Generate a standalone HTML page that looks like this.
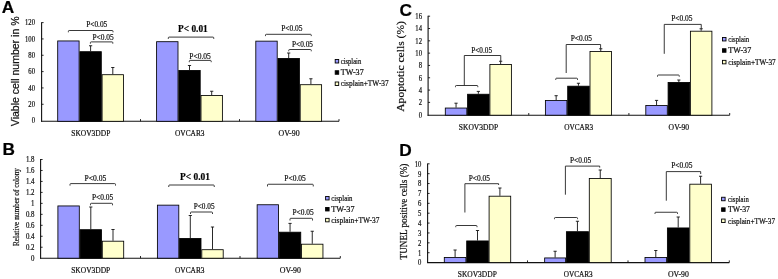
<!DOCTYPE html>
<html><head><meta charset="utf-8"><title>Figure</title>
<style>
html,body{margin:0;padding:0;background:#fff;}
body{width:778px;height:279px;overflow:hidden;font-family:"Liberation Serif",serif;}
svg{display:block;filter:blur(0.4px);}
text{font-kerning:normal;stroke:#111;stroke-width:0.22px;}
</style></head><body>
<svg width="778" height="279" viewBox="0 0 778 279">
<rect x="0" y="0" width="778" height="279" fill="#ffffff"/>
<text x="1.8" y="13.4" font-family="'Liberation Sans', sans-serif" font-size="17.3" font-weight="bold" text-anchor="start" fill="#000">A</text>
<text transform="translate(18.5,71.35) scale(1.0,1) rotate(-90)" font-family="'Liberation Sans', sans-serif" font-size="10.8" font-weight="normal" text-anchor="middle" fill="#111" textLength="109.7" lengthAdjust="spacingAndGlyphs">Viable cell number in %</text>
<line x1="41.6" y1="22.200000000000003" x2="41.6" y2="121.8" stroke="#111" stroke-width="1.1"/>
<line x1="41.1" y1="121.3" x2="339" y2="121.3" stroke="#111" stroke-width="1.1"/>
<line x1="140.5" y1="121.3" x2="140.5" y2="119.1" stroke="#111" stroke-width="0.9"/>
<line x1="239.5" y1="121.3" x2="239.5" y2="119.1" stroke="#111" stroke-width="0.9"/>
<line x1="339" y1="121.3" x2="339" y2="119.1" stroke="#111" stroke-width="0.9"/>
<text transform="translate(35.0,123.38) scale(0.83,1)" font-family="'Liberation Serif', serif" font-size="8" text-anchor="end" fill="#111">0</text>
<line x1="41.6" y1="104.27" x2="43.6" y2="104.27" stroke="#111" stroke-width="0.9"/>
<text transform="translate(35.0,107.05) scale(0.83,1)" font-family="'Liberation Serif', serif" font-size="8" text-anchor="end" fill="#111">20</text>
<line x1="41.6" y1="87.93" x2="43.6" y2="87.93" stroke="#111" stroke-width="0.9"/>
<text transform="translate(35.0,90.71) scale(0.83,1)" font-family="'Liberation Serif', serif" font-size="8" text-anchor="end" fill="#111">40</text>
<line x1="41.6" y1="71.6" x2="43.6" y2="71.6" stroke="#111" stroke-width="0.9"/>
<text transform="translate(35.0,74.38) scale(0.83,1)" font-family="'Liberation Serif', serif" font-size="8" text-anchor="end" fill="#111">60</text>
<line x1="41.6" y1="55.27" x2="43.6" y2="55.27" stroke="#111" stroke-width="0.9"/>
<text transform="translate(35.0,58.05) scale(0.83,1)" font-family="'Liberation Serif', serif" font-size="8" text-anchor="end" fill="#111">80</text>
<line x1="41.6" y1="38.93" x2="43.6" y2="38.93" stroke="#111" stroke-width="0.9"/>
<text transform="translate(35.0,41.71) scale(0.83,1)" font-family="'Liberation Serif', serif" font-size="8" text-anchor="end" fill="#111">100</text>
<line x1="41.6" y1="22.6" x2="43.6" y2="22.6" stroke="#111" stroke-width="0.9"/>
<text transform="translate(35.0,25.38) scale(0.83,1)" font-family="'Liberation Serif', serif" font-size="8" text-anchor="end" fill="#111">120</text>
<rect x="57.7" y="40.95" width="21.4" height="80.35" fill="#9999ff" stroke="#000" stroke-width="0.85"/>
<line x1="90.6" y1="45.75" x2="90.6" y2="51.25" stroke="#111" stroke-width="0.9"/>
<line x1="89.0" y1="45.75" x2="92.19999999999999" y2="45.75" stroke="#111" stroke-width="0.9"/>
<rect x="79.9" y="51.7" width="21.4" height="69.6" fill="#000000" stroke="#000" stroke-width="0.85"/>
<line x1="112.79999999999998" y1="67.5" x2="112.79999999999998" y2="74.25" stroke="#111" stroke-width="0.9"/>
<line x1="111.19999999999999" y1="67.5" x2="114.39999999999998" y2="67.5" stroke="#111" stroke-width="0.9"/>
<rect x="102.1" y="74.7" width="21.4" height="46.6" fill="#ffffcc" stroke="#000" stroke-width="0.85"/>
<rect x="156.6" y="41.7" width="21.4" height="79.6" fill="#9999ff" stroke="#000" stroke-width="0.85"/>
<line x1="189.49999999999997" y1="65.5" x2="189.49999999999997" y2="70" stroke="#111" stroke-width="0.9"/>
<line x1="187.89999999999998" y1="65.5" x2="191.09999999999997" y2="65.5" stroke="#111" stroke-width="0.9"/>
<rect x="178.8" y="70.45" width="21.4" height="50.85" fill="#000000" stroke="#000" stroke-width="0.85"/>
<line x1="211.7" y1="91.25" x2="211.7" y2="95" stroke="#111" stroke-width="0.9"/>
<line x1="210.1" y1="91.25" x2="213.29999999999998" y2="91.25" stroke="#111" stroke-width="0.9"/>
<rect x="201.0" y="95.45" width="21.4" height="25.85" fill="#ffffcc" stroke="#000" stroke-width="0.85"/>
<rect x="255.8" y="41.15" width="21.4" height="80.15" fill="#9999ff" stroke="#000" stroke-width="0.85"/>
<line x1="288.70000000000005" y1="53" x2="288.70000000000005" y2="58" stroke="#111" stroke-width="0.9"/>
<line x1="287.1" y1="53" x2="290.30000000000007" y2="53" stroke="#111" stroke-width="0.9"/>
<rect x="278.0" y="58.45" width="21.4" height="62.85" fill="#000000" stroke="#000" stroke-width="0.85"/>
<line x1="310.90000000000003" y1="78.75" x2="310.90000000000003" y2="84.25" stroke="#111" stroke-width="0.9"/>
<line x1="309.3" y1="78.75" x2="312.50000000000006" y2="78.75" stroke="#111" stroke-width="0.9"/>
<rect x="300.2" y="84.7" width="21.4" height="36.6" fill="#ffffcc" stroke="#000" stroke-width="0.85"/>
<path d="M68.4,32.3 L68.4,31.3 Q68.4,30.5 69.2,30.5 L112.2,30.5 Q113,30.5 113,31.3 L113,32.3" fill="none" stroke="#222" stroke-width="0.9" stroke-linejoin="round"/>
<text x="86.2" y="27.1" font-family="'Liberation Serif', serif" font-size="8.5" font-weight="normal" text-anchor="start" fill="#111" textLength="21.1" lengthAdjust="spacingAndGlyphs">P&lt;0.05</text>
<path d="M90.4,43.699999999999996 L90.4,42.699999999999996 Q90.4,41.9 91.2,41.9 L112.0,41.9 Q112.8,41.9 112.8,42.699999999999996 L112.8,43.699999999999996" fill="none" stroke="#222" stroke-width="0.9" stroke-linejoin="round"/>
<text x="92.5" y="39.6" font-family="'Liberation Serif', serif" font-size="8.5" font-weight="normal" text-anchor="start" fill="#111" textLength="21.25" lengthAdjust="spacingAndGlyphs">P&lt;0.05</text>
<path d="M168.3,38.9 L168.3,37.9 Q168.3,37.1 169.10000000000002,37.1 L212.95,37.1 Q213.75,37.1 213.75,37.9 L213.75,38.9" fill="none" stroke="#222" stroke-width="0.9" stroke-linejoin="round"/>
<text x="178.1" y="32.3" font-family="'Liberation Serif', serif" font-size="10.5" font-weight="bold" text-anchor="start" fill="#000" textLength="29.7" lengthAdjust="spacingAndGlyphs">P&lt; 0.01</text>
<path d="M189.3,62.199999999999996 L189.3,61.199999999999996 Q189.3,60.4 190.10000000000002,60.4 L210.39999999999998,60.4 Q211.2,60.4 211.2,61.199999999999996 L211.2,62.199999999999996" fill="none" stroke="#222" stroke-width="0.9" stroke-linejoin="round"/>
<text x="189.3" y="58.6" font-family="'Liberation Serif', serif" font-size="8.5" font-weight="normal" text-anchor="start" fill="#111" textLength="21.5" lengthAdjust="spacingAndGlyphs">P&lt;0.05</text>
<path d="M265.5,36.099999999999994 L265.5,35.099999999999994 Q265.5,34.3 266.3,34.3 L310.45,34.3 Q311.25,34.3 311.25,35.099999999999994 L311.25,36.099999999999994" fill="none" stroke="#222" stroke-width="0.9" stroke-linejoin="round"/>
<text x="281.25" y="31.3" font-family="'Liberation Serif', serif" font-size="8.5" font-weight="normal" text-anchor="start" fill="#111" textLength="21.25" lengthAdjust="spacingAndGlyphs">P&lt;0.05</text>
<path d="M288.75,51.3 L288.75,50.3 Q288.75,49.5 289.55,49.5 L310.45,49.5 Q311.25,49.5 311.25,50.3 L311.25,51.3" fill="none" stroke="#222" stroke-width="0.9" stroke-linejoin="round"/>
<text x="292" y="47" font-family="'Liberation Serif', serif" font-size="8.5" font-weight="normal" text-anchor="start" fill="#111" textLength="21" lengthAdjust="spacingAndGlyphs">P&lt;0.05</text>
<text x="71.3" y="135.5" font-family="'Liberation Serif', serif" font-size="8.3" font-weight="normal" text-anchor="start" fill="#111" textLength="39.0" lengthAdjust="spacingAndGlyphs">SKOV3DDP</text>
<text x="175" y="135.5" font-family="'Liberation Serif', serif" font-size="8.3" font-weight="normal" text-anchor="start" fill="#111" textLength="29.5" lengthAdjust="spacingAndGlyphs">OVCAR3</text>
<text x="278.5" y="135.5" font-family="'Liberation Serif', serif" font-size="8.3" font-weight="normal" text-anchor="start" fill="#111" textLength="21.1" lengthAdjust="spacingAndGlyphs">OV-90</text>
<rect x="335.2" y="59.5" width="3.5" height="3.5" fill="#9999ff" stroke="#000" stroke-width="0.9"/>
<text x="340.75" y="63.95" font-family="'Liberation Serif', serif" font-size="8.2" font-weight="normal" text-anchor="start" fill="#111" textLength="20.5" lengthAdjust="spacingAndGlyphs">cisplain</text>
<rect x="335.2" y="70.75" width="3.5" height="3.5" fill="#000000" stroke="#000" stroke-width="0.9"/>
<text x="340.75" y="75.2" font-family="'Liberation Serif', serif" font-size="8.2" font-weight="normal" text-anchor="start" fill="#111" textLength="23.0" lengthAdjust="spacingAndGlyphs">TW-37</text>
<rect x="335.2" y="82.0" width="3.5" height="3.5" fill="#ffffcc" stroke="#000" stroke-width="0.9"/>
<text x="340.75" y="86.45" font-family="'Liberation Serif', serif" font-size="8.2" font-weight="normal" text-anchor="start" fill="#111" textLength="48.0" lengthAdjust="spacingAndGlyphs">cisplain+TW-37</text>
<text x="2.6" y="154.9" font-family="'Liberation Sans', sans-serif" font-size="17.2" font-weight="bold" text-anchor="start" fill="#000">B</text>
<text transform="translate(18.6,207) scale(0.95,1) rotate(-90)" font-family="'Liberation Serif', serif" font-size="8.3" font-weight="normal" text-anchor="middle" fill="#111" textLength="78" lengthAdjust="spacingAndGlyphs">Relative number of colony</text>
<line x1="40.6" y1="159.1" x2="40.6" y2="258.7" stroke="#111" stroke-width="1.1"/>
<line x1="40.1" y1="258.2" x2="340.3" y2="258.2" stroke="#111" stroke-width="1.1"/>
<line x1="140.5" y1="258.2" x2="140.5" y2="256.0" stroke="#111" stroke-width="0.9"/>
<line x1="240" y1="258.2" x2="240" y2="256.0" stroke="#111" stroke-width="0.9"/>
<line x1="340.3" y1="258.2" x2="340.3" y2="256.0" stroke="#111" stroke-width="0.9"/>
<text transform="translate(34.5,261.18) scale(0.86,1)" font-family="'Liberation Serif', serif" font-size="8" text-anchor="end" fill="#111">0</text>
<line x1="40.6" y1="247.23" x2="42.6" y2="247.23" stroke="#111" stroke-width="0.9"/>
<text transform="translate(34.5,250.21) scale(0.86,1)" font-family="'Liberation Serif', serif" font-size="8" text-anchor="end" fill="#111">0.2</text>
<line x1="40.6" y1="236.27" x2="42.6" y2="236.27" stroke="#111" stroke-width="0.9"/>
<text transform="translate(34.5,239.25) scale(0.86,1)" font-family="'Liberation Serif', serif" font-size="8" text-anchor="end" fill="#111">0.4</text>
<line x1="40.6" y1="225.3" x2="42.6" y2="225.3" stroke="#111" stroke-width="0.9"/>
<text transform="translate(34.5,228.28) scale(0.86,1)" font-family="'Liberation Serif', serif" font-size="8" text-anchor="end" fill="#111">0.6</text>
<line x1="40.6" y1="214.33" x2="42.6" y2="214.33" stroke="#111" stroke-width="0.9"/>
<text transform="translate(34.5,217.31) scale(0.86,1)" font-family="'Liberation Serif', serif" font-size="8" text-anchor="end" fill="#111">0.8</text>
<line x1="40.6" y1="203.37" x2="42.6" y2="203.37" stroke="#111" stroke-width="0.9"/>
<text transform="translate(34.5,206.35) scale(0.86,1)" font-family="'Liberation Serif', serif" font-size="8" text-anchor="end" fill="#111">1</text>
<line x1="40.6" y1="192.4" x2="42.6" y2="192.4" stroke="#111" stroke-width="0.9"/>
<text transform="translate(34.5,195.38) scale(0.86,1)" font-family="'Liberation Serif', serif" font-size="8" text-anchor="end" fill="#111">1.2</text>
<line x1="40.6" y1="181.43" x2="42.6" y2="181.43" stroke="#111" stroke-width="0.9"/>
<text transform="translate(34.5,184.41) scale(0.86,1)" font-family="'Liberation Serif', serif" font-size="8" text-anchor="end" fill="#111">1.4</text>
<line x1="40.6" y1="170.47" x2="42.6" y2="170.47" stroke="#111" stroke-width="0.9"/>
<text transform="translate(34.5,173.45) scale(0.86,1)" font-family="'Liberation Serif', serif" font-size="8" text-anchor="end" fill="#111">1.6</text>
<line x1="40.6" y1="159.5" x2="42.6" y2="159.5" stroke="#111" stroke-width="0.9"/>
<text transform="translate(34.5,162.48) scale(0.86,1)" font-family="'Liberation Serif', serif" font-size="8" text-anchor="end" fill="#111">1.8</text>
<rect x="57.9" y="205.95" width="21.4" height="52.25" fill="#9999ff" stroke="#000" stroke-width="0.85"/>
<line x1="90.8" y1="207" x2="90.8" y2="229.25" stroke="#111" stroke-width="0.9"/>
<line x1="89.2" y1="207" x2="92.39999999999999" y2="207" stroke="#111" stroke-width="0.9"/>
<rect x="80.1" y="229.7" width="21.4" height="28.5" fill="#000000" stroke="#000" stroke-width="0.85"/>
<line x1="113.0" y1="229.5" x2="113.0" y2="240.75" stroke="#111" stroke-width="0.9"/>
<line x1="111.4" y1="229.5" x2="114.6" y2="229.5" stroke="#111" stroke-width="0.9"/>
<rect x="102.3" y="241.2" width="21.4" height="17.0" fill="#ffffcc" stroke="#000" stroke-width="0.85"/>
<rect x="157.4" y="205.15" width="21.4" height="53.05" fill="#9999ff" stroke="#000" stroke-width="0.85"/>
<line x1="190.29999999999998" y1="215.5" x2="190.29999999999998" y2="238" stroke="#111" stroke-width="0.9"/>
<line x1="188.7" y1="215.5" x2="191.89999999999998" y2="215.5" stroke="#111" stroke-width="0.9"/>
<rect x="179.6" y="238.45" width="21.4" height="19.75" fill="#000000" stroke="#000" stroke-width="0.85"/>
<line x1="212.5" y1="227" x2="212.5" y2="249.25" stroke="#111" stroke-width="0.9"/>
<line x1="210.9" y1="227" x2="214.1" y2="227" stroke="#111" stroke-width="0.9"/>
<rect x="201.8" y="249.7" width="21.4" height="8.5" fill="#ffffcc" stroke="#000" stroke-width="0.85"/>
<rect x="257.15" y="204.75" width="21.4" height="53.45" fill="#9999ff" stroke="#000" stroke-width="0.85"/>
<line x1="290.05" y1="223.4" x2="290.05" y2="231.75" stroke="#111" stroke-width="0.9"/>
<line x1="288.45" y1="223.4" x2="291.65000000000003" y2="223.4" stroke="#111" stroke-width="0.9"/>
<rect x="279.35" y="232.2" width="21.4" height="26.0" fill="#000000" stroke="#000" stroke-width="0.85"/>
<line x1="312.25" y1="231.25" x2="312.25" y2="243.75" stroke="#111" stroke-width="0.9"/>
<line x1="310.65" y1="231.25" x2="313.85" y2="231.25" stroke="#111" stroke-width="0.9"/>
<rect x="301.55" y="244.2" width="21.4" height="14.0" fill="#ffffcc" stroke="#000" stroke-width="0.85"/>
<path d="M70,185.6 L70,184.4 Q70,183.6 70.8,183.6 L114.7,183.6 Q115.5,183.6 115.5,184.4 L115.5,185.6" fill="none" stroke="#222" stroke-width="0.9" stroke-linejoin="round"/>
<text x="84.5" y="180.5" font-family="'Liberation Serif', serif" font-size="8.5" font-weight="normal" text-anchor="start" fill="#111" textLength="21.75" lengthAdjust="spacingAndGlyphs">P&lt;0.05</text>
<path d="M90.5,205.3 L90.5,204.10000000000002 Q90.5,203.3 91.3,203.3 L111.7,203.3 Q112.5,203.3 112.5,204.10000000000002 L112.5,205.3" fill="none" stroke="#222" stroke-width="0.9" stroke-linejoin="round"/>
<text x="92" y="199.9" font-family="'Liberation Serif', serif" font-size="8.5" font-weight="normal" text-anchor="start" fill="#111" textLength="21.25" lengthAdjust="spacingAndGlyphs">P&lt;0.05</text>
<path d="M168.75,187 L168.75,185.8 Q168.75,185 169.55,185 L213.45,185 Q214.25,185 214.25,185.8 L214.25,187" fill="none" stroke="#222" stroke-width="0.9" stroke-linejoin="round"/>
<text x="180" y="179.5" font-family="'Liberation Serif', serif" font-size="10.5" font-weight="bold" text-anchor="start" fill="#000" textLength="30" lengthAdjust="spacingAndGlyphs">P&lt; 0.01</text>
<path d="M190.5,214 L190.5,212.8 Q190.5,212 191.3,212 L211.7,212 Q212.5,212 212.5,212.8 L212.5,214" fill="none" stroke="#222" stroke-width="0.9" stroke-linejoin="round"/>
<text x="193.75" y="208.5" font-family="'Liberation Serif', serif" font-size="8.5" font-weight="normal" text-anchor="start" fill="#111" textLength="20.75" lengthAdjust="spacingAndGlyphs">P&lt;0.05</text>
<path d="M267.5,186.45 L267.5,185.05 Q267.5,184.25 268.3,184.25 L312.45,184.25 Q313.25,184.25 313.25,185.05 L313.25,186.45" fill="none" stroke="#222" stroke-width="0.9" stroke-linejoin="round"/>
<text x="284.25" y="180.75" font-family="'Liberation Serif', serif" font-size="8.5" font-weight="normal" text-anchor="start" fill="#111" textLength="21.5" lengthAdjust="spacingAndGlyphs">P&lt;0.05</text>
<path d="M290,220.5 L290,219.10000000000002 Q290,218.3 290.8,218.3 L311.7,218.3 Q312.5,218.3 312.5,219.10000000000002 L312.5,220.5" fill="none" stroke="#222" stroke-width="0.9" stroke-linejoin="round"/>
<text x="292.5" y="215" font-family="'Liberation Serif', serif" font-size="8.5" font-weight="normal" text-anchor="start" fill="#111" textLength="21.25" lengthAdjust="spacingAndGlyphs">P&lt;0.05</text>
<text x="71.2" y="272.8" font-family="'Liberation Serif', serif" font-size="8.3" font-weight="normal" text-anchor="start" fill="#111" textLength="39.1" lengthAdjust="spacingAndGlyphs">SKOV3DDP</text>
<text x="175" y="272.8" font-family="'Liberation Serif', serif" font-size="8.3" font-weight="normal" text-anchor="start" fill="#111" textLength="29.5" lengthAdjust="spacingAndGlyphs">OVCAR3</text>
<text x="279.8" y="272.8" font-family="'Liberation Serif', serif" font-size="8.3" font-weight="normal" text-anchor="start" fill="#111" textLength="21.2" lengthAdjust="spacingAndGlyphs">OV-90</text>
<rect x="325.59999999999997" y="196.45" width="3.5" height="3.5" fill="#9999ff" stroke="#000" stroke-width="0.9"/>
<text x="331.25" y="200.9" font-family="'Liberation Serif', serif" font-size="8.2" font-weight="normal" text-anchor="start" fill="#111" textLength="21.25" lengthAdjust="spacingAndGlyphs">cisplain</text>
<rect x="325.59999999999997" y="207.45" width="3.5" height="3.5" fill="#000000" stroke="#000" stroke-width="0.9"/>
<text x="331.25" y="211.9" font-family="'Liberation Serif', serif" font-size="8.2" font-weight="normal" text-anchor="start" fill="#111" textLength="23.25" lengthAdjust="spacingAndGlyphs">TW-37</text>
<rect x="325.59999999999997" y="218.35" width="3.5" height="3.5" fill="#ffffcc" stroke="#000" stroke-width="0.9"/>
<text x="331.25" y="222.8" font-family="'Liberation Serif', serif" font-size="8.2" font-weight="normal" text-anchor="start" fill="#111" textLength="48.25" lengthAdjust="spacingAndGlyphs">cisplain+TW-37</text>
<text x="399.4" y="15.7" font-family="'Liberation Sans', sans-serif" font-size="17.3" font-weight="bold" text-anchor="start" fill="#000">C</text>
<text transform="translate(404.4,66.4) scale(0.93,1) rotate(-90)" font-family="'Liberation Serif', serif" font-size="11.5" font-weight="normal" text-anchor="middle" fill="#111" textLength="90.7" lengthAdjust="spacingAndGlyphs">Apoptotic cells (%)</text>
<line x1="428.1" y1="15.799999999999999" x2="428.1" y2="115.7" stroke="#111" stroke-width="1.1"/>
<line x1="427.6" y1="115.2" x2="729.7" y2="115.2" stroke="#111" stroke-width="1.1"/>
<line x1="528.75" y1="115.2" x2="528.75" y2="113.0" stroke="#111" stroke-width="0.9"/>
<line x1="628.9" y1="115.2" x2="628.9" y2="113.0" stroke="#111" stroke-width="0.9"/>
<line x1="729.7" y1="115.2" x2="729.7" y2="113.0" stroke="#111" stroke-width="0.9"/>
<text transform="translate(422,117.58) scale(0.83,1)" font-family="'Liberation Serif', serif" font-size="8" text-anchor="end" fill="#111">0</text>
<line x1="428.1" y1="102.39" x2="430.1" y2="102.39" stroke="#111" stroke-width="0.9"/>
<text transform="translate(422,105.27) scale(0.83,1)" font-family="'Liberation Serif', serif" font-size="8" text-anchor="end" fill="#111">2</text>
<line x1="428.1" y1="90.08" x2="430.1" y2="90.08" stroke="#111" stroke-width="0.9"/>
<text transform="translate(422,92.96) scale(0.83,1)" font-family="'Liberation Serif', serif" font-size="8" text-anchor="end" fill="#111">4</text>
<line x1="428.1" y1="77.76" x2="430.1" y2="77.76" stroke="#111" stroke-width="0.9"/>
<text transform="translate(422,80.64) scale(0.83,1)" font-family="'Liberation Serif', serif" font-size="8" text-anchor="end" fill="#111">6</text>
<line x1="428.1" y1="65.45" x2="430.1" y2="65.45" stroke="#111" stroke-width="0.9"/>
<text transform="translate(422,68.33) scale(0.83,1)" font-family="'Liberation Serif', serif" font-size="8" text-anchor="end" fill="#111">8</text>
<line x1="428.1" y1="53.14" x2="430.1" y2="53.14" stroke="#111" stroke-width="0.9"/>
<text transform="translate(422,56.02) scale(0.83,1)" font-family="'Liberation Serif', serif" font-size="8" text-anchor="end" fill="#111">10</text>
<line x1="428.1" y1="40.83" x2="430.1" y2="40.83" stroke="#111" stroke-width="0.9"/>
<text transform="translate(422,43.71) scale(0.83,1)" font-family="'Liberation Serif', serif" font-size="8" text-anchor="end" fill="#111">12</text>
<line x1="428.1" y1="28.51" x2="430.1" y2="28.51" stroke="#111" stroke-width="0.9"/>
<text transform="translate(422,31.39) scale(0.83,1)" font-family="'Liberation Serif', serif" font-size="8" text-anchor="end" fill="#111">14</text>
<line x1="428.1" y1="16.2" x2="430.1" y2="16.2" stroke="#111" stroke-width="0.9"/>
<text transform="translate(422,19.08) scale(0.83,1)" font-family="'Liberation Serif', serif" font-size="8" text-anchor="end" fill="#111">16</text>
<line x1="456.05" y1="103.2" x2="456.05" y2="107.6" stroke="#111" stroke-width="0.9"/>
<line x1="454.45" y1="103.2" x2="457.65000000000003" y2="103.2" stroke="#111" stroke-width="0.9"/>
<rect x="445.3" y="108.05" width="21.5" height="7.15" fill="#9999ff" stroke="#000" stroke-width="0.85"/>
<line x1="478.35" y1="91.4" x2="478.35" y2="93.8" stroke="#111" stroke-width="0.9"/>
<line x1="476.75" y1="91.4" x2="479.95000000000005" y2="91.4" stroke="#111" stroke-width="0.9"/>
<rect x="467.6" y="94.25" width="21.5" height="20.95" fill="#000000" stroke="#000" stroke-width="0.85"/>
<line x1="500.65" y1="61.25" x2="500.65" y2="64" stroke="#111" stroke-width="0.9"/>
<line x1="499.04999999999995" y1="61.25" x2="502.25" y2="61.25" stroke="#111" stroke-width="0.9"/>
<rect x="489.9" y="64.45" width="21.5" height="50.75" fill="#ffffcc" stroke="#000" stroke-width="0.85"/>
<line x1="556.15" y1="95.7" x2="556.15" y2="100.1" stroke="#111" stroke-width="0.9"/>
<line x1="554.55" y1="95.7" x2="557.75" y2="95.7" stroke="#111" stroke-width="0.9"/>
<rect x="545.4" y="100.55" width="21.5" height="14.65" fill="#9999ff" stroke="#000" stroke-width="0.85"/>
<line x1="578.45" y1="83.25" x2="578.45" y2="85.75" stroke="#111" stroke-width="0.9"/>
<line x1="576.85" y1="83.25" x2="580.0500000000001" y2="83.25" stroke="#111" stroke-width="0.9"/>
<rect x="567.7" y="86.2" width="21.5" height="29.0" fill="#000000" stroke="#000" stroke-width="0.85"/>
<line x1="600.75" y1="48.75" x2="600.75" y2="51" stroke="#111" stroke-width="0.9"/>
<line x1="599.15" y1="48.75" x2="602.35" y2="48.75" stroke="#111" stroke-width="0.9"/>
<rect x="590.0" y="51.45" width="21.5" height="63.75" fill="#ffffcc" stroke="#000" stroke-width="0.85"/>
<line x1="656.55" y1="100.4" x2="656.55" y2="105.1" stroke="#111" stroke-width="0.9"/>
<line x1="654.9499999999999" y1="100.4" x2="658.15" y2="100.4" stroke="#111" stroke-width="0.9"/>
<rect x="645.8" y="105.55" width="21.5" height="9.65" fill="#9999ff" stroke="#000" stroke-width="0.85"/>
<line x1="678.85" y1="80" x2="678.85" y2="82" stroke="#111" stroke-width="0.9"/>
<line x1="677.25" y1="80" x2="680.45" y2="80" stroke="#111" stroke-width="0.9"/>
<rect x="668.1" y="82.45" width="21.5" height="32.75" fill="#000000" stroke="#000" stroke-width="0.85"/>
<line x1="701.15" y1="28.75" x2="701.15" y2="30.75" stroke="#111" stroke-width="0.9"/>
<line x1="699.55" y1="28.75" x2="702.75" y2="28.75" stroke="#111" stroke-width="0.9"/>
<rect x="690.4" y="31.2" width="21.5" height="84.0" fill="#ffffcc" stroke="#000" stroke-width="0.85"/>
<path d="M455.5,87.2 L455.5,86.3 Q455.5,85.5 456.3,85.5 L477.0,85.5 Q477.8,85.5 477.8,86.3 L477.8,87.2" fill="none" stroke="#222" stroke-width="0.9" stroke-linejoin="round"/>
<path d="M464.3,85.5 L464.3,55.5 L500.75,55.5 L500.75,61" fill="none" stroke="#222" stroke-width="0.9" stroke-linejoin="round"/>
<text x="471.25" y="52.5" font-family="'Liberation Serif', serif" font-size="8.5" font-weight="normal" text-anchor="start" fill="#111" textLength="20.75" lengthAdjust="spacingAndGlyphs">P&lt;0.05</text>
<path d="M555.75,79.9 L555.75,79.0 Q555.75,78.2 556.55,78.2 L576.7,78.2 Q577.5,78.2 577.5,79.0 L577.5,79.9" fill="none" stroke="#222" stroke-width="0.9" stroke-linejoin="round"/>
<path d="M566.2,73 L566.2,44.5 L600.6,44.5 L600.6,48.75" fill="none" stroke="#222" stroke-width="0.9" stroke-linejoin="round"/>
<text x="570.75" y="40.6" font-family="'Liberation Serif', serif" font-size="8.5" font-weight="normal" text-anchor="start" fill="#111" textLength="21.25" lengthAdjust="spacingAndGlyphs">P&lt;0.05</text>
<path d="M657.5,76.7 L657.5,75.8 Q657.5,75.0 658.3,75.0 L678.45,75.0 Q679.25,75.0 679.25,75.8 L679.25,76.7" fill="none" stroke="#222" stroke-width="0.9" stroke-linejoin="round"/>
<path d="M664.25,53.8 L664.25,24.4 L701.25,24.4 L701.25,28.75" fill="none" stroke="#222" stroke-width="0.9" stroke-linejoin="round"/>
<text x="671.25" y="20.9" font-family="'Liberation Serif', serif" font-size="8.5" font-weight="normal" text-anchor="start" fill="#111" textLength="21.25" lengthAdjust="spacingAndGlyphs">P&lt;0.05</text>
<text x="458.8" y="129.6" font-family="'Liberation Serif', serif" font-size="8.3" font-weight="normal" text-anchor="start" fill="#111" textLength="39.3" lengthAdjust="spacingAndGlyphs">SKOV3DDP</text>
<text x="564.2" y="129.6" font-family="'Liberation Serif', serif" font-size="8.3" font-weight="normal" text-anchor="start" fill="#111" textLength="29.0" lengthAdjust="spacingAndGlyphs">OVCAR3</text>
<text x="668.6" y="129.6" font-family="'Liberation Serif', serif" font-size="8.3" font-weight="normal" text-anchor="start" fill="#111" textLength="20.6" lengthAdjust="spacingAndGlyphs">OV-90</text>
<rect x="722.5" y="37.45" width="3.5" height="3.5" fill="#9999ff" stroke="#000" stroke-width="0.9"/>
<text x="728.25" y="41.9" font-family="'Liberation Serif', serif" font-size="8.2" font-weight="normal" text-anchor="start" fill="#111" textLength="21.0" lengthAdjust="spacingAndGlyphs">cisplain</text>
<rect x="722.5" y="48.75" width="3.5" height="3.5" fill="#000000" stroke="#000" stroke-width="0.9"/>
<text x="728.25" y="53.2" font-family="'Liberation Serif', serif" font-size="8.2" font-weight="normal" text-anchor="start" fill="#111" textLength="23.0" lengthAdjust="spacingAndGlyphs">TW-37</text>
<rect x="722.5" y="60.35" width="3.5" height="3.5" fill="#ffffcc" stroke="#000" stroke-width="0.9"/>
<text x="728.25" y="64.8" font-family="'Liberation Serif', serif" font-size="8.2" font-weight="normal" text-anchor="start" fill="#111" textLength="47.5" lengthAdjust="spacingAndGlyphs">cisplain+TW-37</text>
<text x="399.3" y="155.9" font-family="'Liberation Sans', sans-serif" font-size="17.3" font-weight="bold" text-anchor="start" fill="#000">D</text>
<text transform="translate(407,211.5) scale(1.0,1) rotate(-90)" font-family="'Liberation Serif', serif" font-size="10.4" font-weight="normal" text-anchor="middle" fill="#111" textLength="95.8" lengthAdjust="spacingAndGlyphs">TUNEL positive cells (%)</text>
<line x1="427.6" y1="163.4" x2="427.6" y2="263.1" stroke="#111" stroke-width="1.1"/>
<line x1="427.1" y1="262.6" x2="729.3" y2="262.6" stroke="#111" stroke-width="1.1"/>
<line x1="527.5" y1="262.6" x2="527.5" y2="260.40000000000003" stroke="#111" stroke-width="0.9"/>
<line x1="628" y1="262.6" x2="628" y2="260.40000000000003" stroke="#111" stroke-width="0.9"/>
<line x1="729.3" y1="262.6" x2="729.3" y2="260.40000000000003" stroke="#111" stroke-width="0.9"/>
<text transform="translate(421.3,265.48) scale(0.83,1)" font-family="'Liberation Serif', serif" font-size="8" text-anchor="end" fill="#111">0</text>
<line x1="427.6" y1="252.72" x2="429.6" y2="252.72" stroke="#111" stroke-width="0.9"/>
<text transform="translate(421.3,255.6) scale(0.83,1)" font-family="'Liberation Serif', serif" font-size="8" text-anchor="end" fill="#111">1</text>
<line x1="427.6" y1="242.84" x2="429.6" y2="242.84" stroke="#111" stroke-width="0.9"/>
<text transform="translate(421.3,245.72) scale(0.83,1)" font-family="'Liberation Serif', serif" font-size="8" text-anchor="end" fill="#111">2</text>
<line x1="427.6" y1="232.96" x2="429.6" y2="232.96" stroke="#111" stroke-width="0.9"/>
<text transform="translate(421.3,235.84) scale(0.83,1)" font-family="'Liberation Serif', serif" font-size="8" text-anchor="end" fill="#111">3</text>
<line x1="427.6" y1="223.08" x2="429.6" y2="223.08" stroke="#111" stroke-width="0.9"/>
<text transform="translate(421.3,225.96) scale(0.83,1)" font-family="'Liberation Serif', serif" font-size="8" text-anchor="end" fill="#111">4</text>
<line x1="427.6" y1="213.2" x2="429.6" y2="213.2" stroke="#111" stroke-width="0.9"/>
<text transform="translate(421.3,216.08) scale(0.83,1)" font-family="'Liberation Serif', serif" font-size="8" text-anchor="end" fill="#111">5</text>
<line x1="427.6" y1="203.32" x2="429.6" y2="203.32" stroke="#111" stroke-width="0.9"/>
<text transform="translate(421.3,206.2) scale(0.83,1)" font-family="'Liberation Serif', serif" font-size="8" text-anchor="end" fill="#111">6</text>
<line x1="427.6" y1="193.44" x2="429.6" y2="193.44" stroke="#111" stroke-width="0.9"/>
<text transform="translate(421.3,196.32) scale(0.83,1)" font-family="'Liberation Serif', serif" font-size="8" text-anchor="end" fill="#111">7</text>
<line x1="427.6" y1="183.56" x2="429.6" y2="183.56" stroke="#111" stroke-width="0.9"/>
<text transform="translate(421.3,186.44) scale(0.83,1)" font-family="'Liberation Serif', serif" font-size="8" text-anchor="end" fill="#111">8</text>
<line x1="427.6" y1="173.68" x2="429.6" y2="173.68" stroke="#111" stroke-width="0.9"/>
<text transform="translate(421.3,176.56) scale(0.83,1)" font-family="'Liberation Serif', serif" font-size="8" text-anchor="end" fill="#111">9</text>
<line x1="427.6" y1="163.8" x2="429.6" y2="163.8" stroke="#111" stroke-width="0.9"/>
<text transform="translate(421.3,166.68) scale(0.83,1)" font-family="'Liberation Serif', serif" font-size="8" text-anchor="end" fill="#111">10</text>
<line x1="455.1" y1="250" x2="455.1" y2="257" stroke="#111" stroke-width="0.9"/>
<line x1="453.5" y1="250" x2="456.70000000000005" y2="250" stroke="#111" stroke-width="0.9"/>
<rect x="444.3" y="257.45" width="21.6" height="5.15" fill="#9999ff" stroke="#000" stroke-width="0.85"/>
<line x1="477.5" y1="230.5" x2="477.5" y2="240.5" stroke="#111" stroke-width="0.9"/>
<line x1="475.9" y1="230.5" x2="479.1" y2="230.5" stroke="#111" stroke-width="0.9"/>
<rect x="466.7" y="240.95" width="21.6" height="21.65" fill="#000000" stroke="#000" stroke-width="0.85"/>
<line x1="499.9" y1="188" x2="499.9" y2="195.75" stroke="#111" stroke-width="0.9"/>
<line x1="498.29999999999995" y1="188" x2="501.5" y2="188" stroke="#111" stroke-width="0.9"/>
<rect x="489.1" y="196.2" width="21.6" height="66.4" fill="#ffffcc" stroke="#000" stroke-width="0.85"/>
<line x1="555.12" y1="251.25" x2="555.12" y2="257.5" stroke="#111" stroke-width="0.9"/>
<line x1="553.52" y1="251.25" x2="556.72" y2="251.25" stroke="#111" stroke-width="0.9"/>
<rect x="544.65" y="257.95" width="20.95" height="4.65" fill="#9999ff" stroke="#000" stroke-width="0.85"/>
<line x1="577.45" y1="221.25" x2="577.45" y2="231.25" stroke="#111" stroke-width="0.9"/>
<line x1="575.85" y1="221.25" x2="579.0500000000001" y2="221.25" stroke="#111" stroke-width="0.9"/>
<rect x="566.4" y="231.7" width="22.1" height="30.9" fill="#000000" stroke="#000" stroke-width="0.85"/>
<line x1="600.25" y1="170" x2="600.25" y2="178" stroke="#111" stroke-width="0.9"/>
<line x1="598.65" y1="170" x2="601.85" y2="170" stroke="#111" stroke-width="0.9"/>
<rect x="589.3" y="178.45" width="21.9" height="84.15" fill="#ffffcc" stroke="#000" stroke-width="0.85"/>
<line x1="655.8" y1="250.5" x2="655.8" y2="257" stroke="#111" stroke-width="0.9"/>
<line x1="654.1999999999999" y1="250.5" x2="657.4" y2="250.5" stroke="#111" stroke-width="0.9"/>
<rect x="645.0" y="257.45" width="21.6" height="5.15" fill="#9999ff" stroke="#000" stroke-width="0.85"/>
<line x1="678.2" y1="217" x2="678.2" y2="227.5" stroke="#111" stroke-width="0.9"/>
<line x1="676.6" y1="217" x2="679.8000000000001" y2="217" stroke="#111" stroke-width="0.9"/>
<rect x="667.4" y="227.95" width="21.6" height="34.65" fill="#000000" stroke="#000" stroke-width="0.85"/>
<line x1="700.6" y1="176.25" x2="700.6" y2="183.75" stroke="#111" stroke-width="0.9"/>
<line x1="699.0" y1="176.25" x2="702.2" y2="176.25" stroke="#111" stroke-width="0.9"/>
<rect x="689.8" y="184.2" width="21.6" height="78.4" fill="#ffffcc" stroke="#000" stroke-width="0.85"/>
<path d="M455.75,227.2 L455.75,226.3 Q455.75,225.5 456.55,225.5 L476.2,225.5 Q477,225.5 477,226.3 L477,227.2" fill="none" stroke="#222" stroke-width="0.9" stroke-linejoin="round"/>
<path d="M464.9,212.5 L464.9,183.7 L498.6,183.7 L498.6,185" fill="none" stroke="#222" stroke-width="0.9" stroke-linejoin="round"/>
<text x="468.75" y="180.5" font-family="'Liberation Serif', serif" font-size="8.5" font-weight="normal" text-anchor="start" fill="#111" textLength="21.25" lengthAdjust="spacingAndGlyphs">P&lt;0.05</text>
<path d="M554.5,219.2 L554.5,218.3 Q554.5,217.5 555.3,217.5 L576.7,217.5 Q577.5,217.5 577.5,218.3 L577.5,219.2" fill="none" stroke="#222" stroke-width="0.9" stroke-linejoin="round"/>
<path d="M565.4,194.7 L565.4,166.1 L599.7,166.1 L599.7,167.6" fill="none" stroke="#222" stroke-width="0.9" stroke-linejoin="round"/>
<text x="570" y="162.9" font-family="'Liberation Serif', serif" font-size="8.5" font-weight="normal" text-anchor="start" fill="#111" textLength="21.25" lengthAdjust="spacingAndGlyphs">P&lt;0.05</text>
<path d="M655,213.95 L655,213.05 Q655,212.25 655.8,212.25 L676.7,212.25 Q677.5,212.25 677.5,213.05 L677.5,213.95" fill="none" stroke="#222" stroke-width="0.9" stroke-linejoin="round"/>
<path d="M666.3,200.7 L666.3,171.6 L700.7,171.6 L700.7,174" fill="none" stroke="#222" stroke-width="0.9" stroke-linejoin="round"/>
<text x="671.25" y="168" font-family="'Liberation Serif', serif" font-size="8.5" font-weight="normal" text-anchor="start" fill="#111" textLength="21.25" lengthAdjust="spacingAndGlyphs">P&lt;0.05</text>
<text x="457.8" y="277" font-family="'Liberation Serif', serif" font-size="8.3" font-weight="normal" text-anchor="start" fill="#111" textLength="39.0" lengthAdjust="spacingAndGlyphs">SKOV3DDP</text>
<text x="563.7" y="277" font-family="'Liberation Serif', serif" font-size="8.3" font-weight="normal" text-anchor="start" fill="#111" textLength="29.0" lengthAdjust="spacingAndGlyphs">OVCAR3</text>
<text x="668" y="277" font-family="'Liberation Serif', serif" font-size="8.3" font-weight="normal" text-anchor="start" fill="#111" textLength="20.8" lengthAdjust="spacingAndGlyphs">OV-90</text>
<rect x="721.6" y="197.25" width="3.5" height="3.5" fill="#9999ff" stroke="#000" stroke-width="0.9"/>
<text x="728" y="201.7" font-family="'Liberation Serif', serif" font-size="8.2" font-weight="normal" text-anchor="start" fill="#111" textLength="20.75" lengthAdjust="spacingAndGlyphs">cisplain</text>
<rect x="721.6" y="207.85" width="3.5" height="3.5" fill="#000000" stroke="#000" stroke-width="0.9"/>
<text x="728" y="212.3" font-family="'Liberation Serif', serif" font-size="8.2" font-weight="normal" text-anchor="start" fill="#111" textLength="22" lengthAdjust="spacingAndGlyphs">TW-37</text>
<rect x="721.6" y="219.05" width="3.5" height="3.5" fill="#ffffcc" stroke="#000" stroke-width="0.9"/>
<text x="728" y="223.5" font-family="'Liberation Serif', serif" font-size="8.2" font-weight="normal" text-anchor="start" fill="#111" textLength="47" lengthAdjust="spacingAndGlyphs">cisplain+TW-37</text>
</svg>
</body></html>
